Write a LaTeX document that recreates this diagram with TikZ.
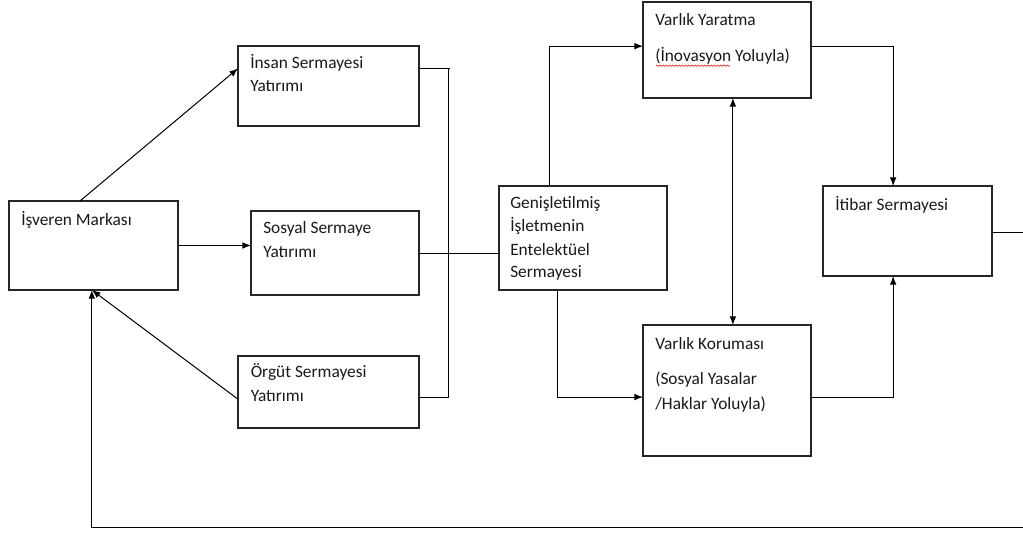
\documentclass[tikz,border=0pt]{standalone}
\usepackage{fontspec}
\setmainfont{Carlito}
\usetikzlibrary{arrows.meta,calc,fit,decorations.pathmorphing}
\begin{document}
\begin{tikzpicture}[x=0.75pt,y=-0.75pt,
  box/.style={draw=black!85, line width=0.9pt, inner sep=0pt, outer sep=0pt},
  txt/.style={anchor=base west, inner sep=0pt, font=\fontsize{13}{15}\selectfont, text=black!90},
  link/.style={draw=black, line width=0.75pt},
  arr/.style={link, -{Latex[length=6.5pt,width=5pt]}},
  biarr/.style={link, {Latex[length=6.5pt,width=5pt]}-{Latex[length=6.5pt,width=5pt]}},
]
\useasboundingbox (0,0) rectangle (1023,539);

% boxes
\node[box, fit={(9,201) (178,290)}] (brand) {};
\node[box, fit={(238,46) (419,126)}] (human) {};
\node[box, fit={(251,211) (419,295)}] (social) {};
\node[box, fit={(238,356) (419,428)}] (org) {};
\node[box, fit={(499,186) (667,290)}] (ic) {};
\node[box, fit={(643,2) (811,98)}] (create) {};
\node[box, fit={(643,325) (811,456)}] (protect) {};
\node[box, fit={(823,186) (992,276)}] (rep) {};

% box texts
\node[txt] (tbrand) at (21,225.7) {İşveren Markası};
\node[txt] (thuman1) at (250,68.3) {İnsan Sermayesi};
\node[txt] (thuman2) at (250,91.7) {Yatırımı};
\node[txt] (tsocial1) at (263,233.5) {Sosyal Sermaye};
\node[txt] (tsocial2) at (263,257.5) {Yatırımı};
\node[txt] (torg1) at (250.5,377.3) {Örgüt Sermayesi};
\node[txt] (torg2) at (250.5,401) {Yatırımı};
\node[txt] (tic1) at (510,208.3) {Genişletilmiş};
\node[txt] (tic2) at (510,231.7) {İşletmenin};
\node[txt] (tic3) at (510,255) {Entelektüel};
\node[txt] (tic4) at (510,277) {Sermayesi};
\node[txt] (tcreate1) at (655,25) {Varlık Yaratma};
\node[txt] (tcreate2) at (655,61.7) {(İnovasyon Yoluyla)};
\node[txt] (tprot1) at (655,349) {Varlık Koruması};
\node[txt] (tprot2) at (655,384) {(Sosyal Yasalar};
\node[txt] (tprot3) at (655,409) {/Haklar Yoluyla)};
\node[txt] (trep) at (835,210) {İtibar Sermayesi};

% spelling underline
\draw[red, line width=0.4pt, decorate, decoration={snake, amplitude=0.5pt, segment length=2.4pt}]
  ($(tcreate2.base west)+(1,4)$) -- ++(74,0);

% anchor points on box borders
\coordinate (brandtop) at ($(brand.north west)!0.42!(brand.north east)$);
\coordinate (brandbot) at ($(brand.south west)!0.49!(brand.south east)$);
\coordinate (humanin) at ($(human.north west)!0.28!(human.south west)$);
\coordinate (humanout) at ($(human.north east)!0.28!(human.south east)$);
\coordinate (orgout) at ($(org.north east)!0.58!(org.south east)$);
\coordinate (orgin) at ($(org.north west)!0.6!(org.south west)$);
\coordinate (bus) at (448,0);
\coordinate (ictop) at ($(ic.north west)!0.3!(ic.north east)$);
\coordinate (icbot) at ($(ic.south west)!0.35!(ic.south east)$);
\coordinate (createin) at ($(create.north west)!0.46!(create.south west)$);
\coordinate (createout) at ($(create.north east)!0.46!(create.south east)$);
\coordinate (createbot) at ($(create.south west)!0.535!(create.south east)$);
\coordinate (protin) at ($(protect.north west)!0.55!(protect.south west)$);
\coordinate (protout) at ($(protect.north east)!0.55!(protect.south east)$);
\coordinate (reptop) at ($(rep.north west)!0.415!(rep.north east)$);
\coordinate (repbot) at ($(rep.south west)!0.415!(rep.south east)$);
\coordinate (repout) at ($(rep.north east)!0.52!(rep.south east)$);
\coordinate (far) at (1030,527);

% connectors
\draw[arr] (brandtop) -- (humanin);
\draw[arr] (brand.east) -- (brand.east -| social.west);
\draw[arr] (orgin) -- (brandbot);

\draw[link] (humanout) -- ++(31,0);
\draw[link] (humanout -| bus) -- (orgout -| bus) -- (orgout);
\draw[link] (social.east) -- (social.east -| ic.west);

\draw[arr] (ictop) |- (createin);
\draw[arr] (icbot) |- (protin);
\draw[biarr] (createbot) -- (createbot |- protect.north);
\draw[arr] (createout) -| (reptop);
\draw[arr] (protout) -| (repbot);

\begin{scope}
  \clip (0,0) rectangle (1023,539);
  \draw[arr] (repout) -| (far) -| (brandbot);
\end{scope}
\end{tikzpicture}
\end{document}
